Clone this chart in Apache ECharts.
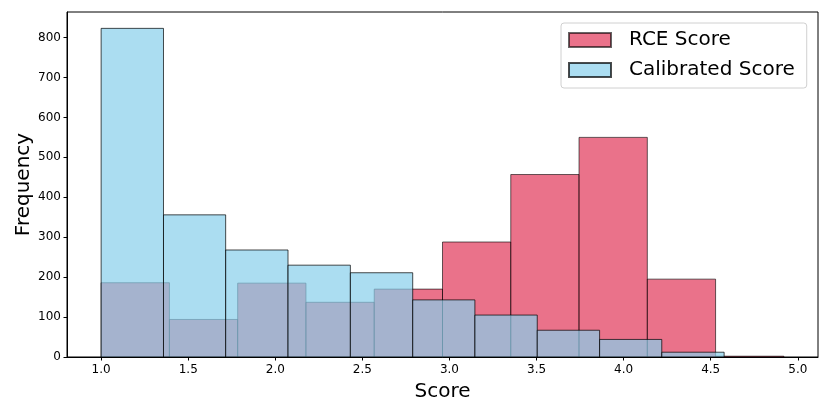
<!DOCTYPE html>
<html>
<head>
<meta charset="utf-8">
<script src="https://cdn.jsdelivr.net/npm/echarts@6/dist/echarts.min.js"></script>
<style>
html,body{margin:0;padding:0;background:#fff;}
#chart{width:830px;height:415px;}
</style>
</head>
<body>
<div id="chart"></div>
<script>
// RCE Score histogram: bin edges and counts
const rceEdges = [1.0, 1.392, 1.784, 2.176, 2.568, 2.96, 3.352, 3.744, 4.136, 4.528, 4.92];
const rceCounts = [186, 94, 185, 137, 170, 288, 457, 550, 195, 2];
// Calibrated Score histogram: bin edges and counts
const calEdges = [1.0, 1.358, 1.715, 2.073, 2.431, 2.789, 3.146, 3.504, 3.862, 4.219, 4.577];
const calCounts = [823, 356, 268, 230, 211, 143, 105, 67, 44, 12];
// Axis ticks
const xTicks = [1.0, 1.5, 2.0, 2.5, 3.0, 3.5, 4.0, 4.5, 5.0];
const seriesNames = ['RCE Score', 'Calibrated Score'];

function toBins(edges, counts) {
  return counts.map((c, i) => [edges[i], edges[i + 1], c]);
}

const FONT = 'DejaVu Sans';

function renderBar(params, api) {
  const x0 = api.value(0), x1 = api.value(1), v = api.value(2);
  const p0 = api.coord([x0, v]);
  const p1 = api.coord([x1, 0]);
  return {
    type: 'rect',
    shape: { x: p0[0], y: p0[1], width: p1[0] - p0[0], height: p1[1] - p0[1] },
    style: api.style()
  };
}

const chart = echarts.init(document.getElementById('chart'), null, { renderer: 'canvas' });
chart.setOption({
  animation: false,
  backgroundColor: '#fff',
  textStyle: { fontFamily: FONT },
  grid: {
    left: 67, right: 12, top: 12, bottom: 58,
    show: true, borderColor: '#000', borderWidth: 1, backgroundColor: 'transparent'
  },
  legend: {
    orient: 'vertical',
    left: 561, top: 23,
    padding: [7, 12, 8, 7],
    itemWidth: 42, itemHeight: 14, itemGap: 10,
    backgroundColor: '#fff',
    borderColor: '#d0d0d0', borderWidth: 1, borderRadius: 3,
    icon: 'rect',
    textStyle: { fontFamily: FONT, fontSize: 20, color: '#000', padding: [0, 0, 0, 13] },
    data: seriesNames
  },
  xAxis: {
    type: 'value',
    min: 0.804, max: 5.116,
    name: 'Score',
    nameLocation: 'middle',
    nameGap: 25,
    nameMoveOverlap: false,
    nameTextStyle: { fontFamily: FONT, fontSize: 20, color: '#000' },
    axisLine: { show: true, onZero: false, lineStyle: { color: '#000', width: 1 } },
    axisTick: { show: true, length: 3.5, customValues: xTicks, lineStyle: { color: '#000' } },
    axisLabel: {
      customValues: xTicks, margin: 7,
      fontFamily: FONT, fontSize: 12, color: '#000',
      formatter: v => Number(v).toFixed(1)
    },
    splitLine: { show: false }
  },
  yAxis: {
    type: 'value',
    min: 0, max: 864, interval: 100,
    name: 'Frequency',
    nameLocation: 'middle',
    nameGap: 33,
    nameMoveOverlap: false,
    nameTextStyle: { fontFamily: FONT, fontSize: 20, color: '#000' },
    axisLine: { show: true, lineStyle: { color: '#000', width: 1 } },
    axisTick: { show: true, length: 3.5, lineStyle: { color: '#000' } },
    axisLabel: { margin: 6, showMaxLabel: false, fontFamily: FONT, fontSize: 12, color: '#000' },
    splitLine: { show: false }
  },
  series: [
    {
      name: seriesNames[0],
      type: 'custom',
      renderItem: renderBar,
      encode: { x: [0, 1], y: 2 },
      itemStyle: { color: 'rgba(220,20,60,0.6)', borderColor: 'rgba(0,0,0,0.6)', borderWidth: 1 },
      data: toBins(rceEdges, rceCounts),
      z: 2
    },
    {
      name: seriesNames[1],
      type: 'custom',
      renderItem: renderBar,
      encode: { x: [0, 1], y: 2 },
      itemStyle: { color: 'rgba(135,206,235,0.7)', borderColor: 'rgba(0,0,0,0.7)', borderWidth: 1 },
      data: toBins(calEdges, calCounts),
      z: 3
    }
  ]
});
</script>
</body>
</html>
